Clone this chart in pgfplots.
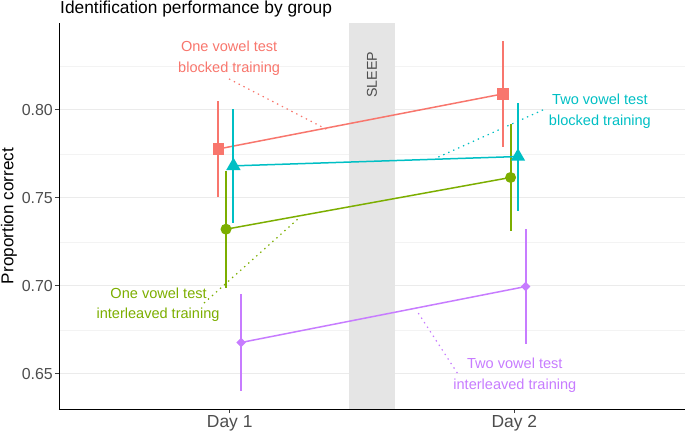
\documentclass[border=0pt]{standalone}
\usepackage{pgfplots}
\pgfplotsset{compat=1.18}
\usepackage{fontspec}
\setmainfont{Liberation Sans}
\definecolor{cpink}{HTML}{F8766D}
\definecolor{cgreen}{HTML}{7CAE00}
\definecolor{ccyan}{HTML}{00BFC4}
\definecolor{cpurple}{HTML}{C77CFF}
\definecolor{txtgrey}{HTML}{4D4D4D}
\definecolor{gridgrey}{HTML}{EBEBEB}
\begin{document}
\begin{tikzpicture}
\useasboundingbox (-59bp,-24bp) rectangle (626bp,409bp);
\begin{axis}[name=ax, at={(0,0)}, anchor=south west, scale only axis,
  width=626bp, height=386bp,
  xmin=0.4, xmax=2.6, ymin=0.63, ymax=0.8494,
  axis lines*=left, axis line style={-, black, line width=0.9bp},
  xtick={1,2}, xticklabels={Day 1, Day 2},
  ytick={0.65,0.70,0.75,0.80}, minor ytick={0.675,0.725,0.775,0.825},
  yticklabel={\pgfmathprintnumber[fixed, fixed zerofill, precision=2]{\tick}},
  /pgf/number format/assume math mode=true,
  ymajorgrids, yminorgrids,
  major grid style={gridgrey, line width=0.9bp},
  minor grid style={gridgrey!60, line width=0.5bp},
  tick align=outside, major tick length=4bp, minor tick length=0pt,
  tick style={line width=0.9bp, black!75},
  yticklabel style={font=\fontsize{16}{16}\selectfont, text=txtgrey, anchor=east, inner sep=0pt, xshift=-2bp},
  xticklabel style={font=\fontsize{17.5}{17.5}\selectfont, text=txtgrey, anchor=base, inner sep=0pt, yshift=-14.5bp},
  clip=false,
]
% sleep band
\addplot[draw=none, fill=gray!20] coordinates {(1.42,0.63) (1.58,0.63) (1.58,0.8494) (1.42,0.8494)} -- cycle;
% dotted annotation leaders
\addplot[cpink, line width=1.2bp, dash pattern=on 1.4bp off 4bp] coordinates {(0.9975,0.8176) (1.340,0.7890)};
\addplot[ccyan, line width=1.2bp, dash pattern=on 1.4bp off 4bp] coordinates {(2.101,0.8000) (1.725,0.7726)};
\addplot[cgreen, line width=1.2bp, dash pattern=on 1.4bp off 4bp] coordinates {(0.9095,0.6902) (1.2465,0.7390)};
\addplot[cpurple, line width=1.2bp, dash pattern=on 1.4bp off 4bp] coordinates {(1.800,0.6504) (1.655,0.6864)};
% groups
\addplot[cpink, line width=1.5bp, mark=square*, mark size=5bp,
  error bars/.cd, y dir=both, y explicit, error mark=none, error bar style={line width=2bp}]
  coordinates {(0.96,0.7778) += (0,0.0275) -= (0,0.0274) (1.96,0.8091) += (0,0.0303) -= (0,0.0303)};
\addplot[cgreen, line width=1.5bp, mark=*, mark size=4.7bp,
  error bars/.cd, y dir=both, y explicit, error mark=none, error bar style={line width=2bp}]
  coordinates {(0.987,0.7322) += (0,0.0333) -= (0,0.0335) (1.987,0.7616) += (0,0.0303) -= (0,0.0307)};
\addplot[ccyan, line width=1.5bp, mark=triangle*, mark size=6.8bp,
  error bars/.cd, y dir=both, y explicit, error mark=none, error bar style={line width=2bp}]
  coordinates {(1.013,0.7682) += (0,0.0322) -= (0,0.0322) (2.013,0.7735) += (0,0.0306) -= (0,0.0307)};
\addplot[cpurple, line width=1.5bp, mark=square*, mark size=2.6bp, mark options={rotate=45},
  error bars/.cd, y dir=both, y explicit, error mark=none, error bar style={line width=2bp}]
  coordinates {(1.04,0.6678) += (0,0.0277) -= (0,0.0278) (2.04,0.6996) += (0,0.0326) -= (0,0.0327)};
% labels
\node[rotate=90, text=txtgrey, font=\fontsize{14.3}{14.3}\selectfont] at (axis cs:1.5,0.8199) {SLEEP};
\begin{scope}[every node/.style={anchor=base, inner sep=0pt, font=\fontsize{14.6}{14.6}\selectfont}]
\node[text=cpink] at (axis cs:0.998,0.8331) {One vowel test};
\node[text=cpink] at (axis cs:0.998,0.8212) {blocked training};
\node[text=ccyan] at (axis cs:2.301,0.80284) {Two vowel test};
\node[text=ccyan] at (axis cs:2.301,0.79091) {blocked training};
\node[text=cgreen] at (axis cs:0.75,0.6930) {One vowel test};
\node[text=cgreen] at (axis cs:0.748,0.6813) {interleaved training};
\node[text=cpurple] at (axis cs:2.002,0.6532) {Two vowel test};
\node[text=cpurple] at (axis cs:2.002,0.6413) {interleaved training};
\end{scope}
\end{axis}
\node[anchor=base west, inner sep=0pt, font=\fontsize{17.4}{17.4}\selectfont] at (1bp,395.5bp) {Identification performance by group};
\node[rotate=90, anchor=base, inner sep=0pt, font=\fontsize{17.2}{17.2}\selectfont] at (-45.7bp,193bp) {Proportion correct};
\end{tikzpicture}
\end{document}
